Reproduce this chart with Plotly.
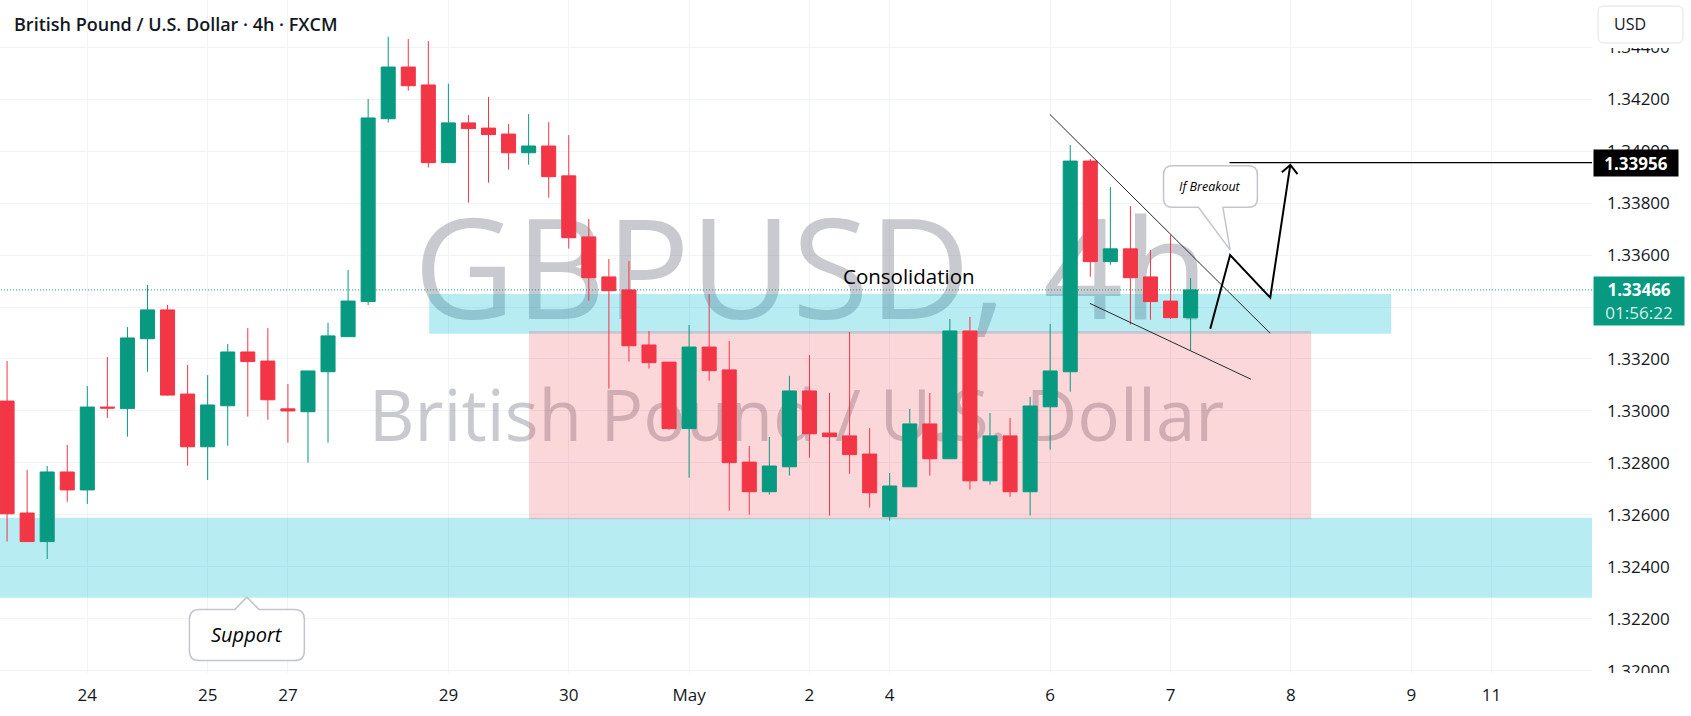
import plotly.graph_objects as go

# ---------------- data ----------------
candle_index = list(range(60))
opens = [1.33038, 1.32607, 1.32497, 1.32765, 1.32696, 1.33015, 1.33009, 1.33278, 1.33389, 1.33065,
         1.32862, 1.33020, 1.33227, 1.33192, 1.33008, 1.32997, 1.33151, 1.33286, 1.33421, 1.34125,
         1.34324, 1.34255, 1.33956, 1.34109, 1.34089, 1.34066, 1.33994, 1.34020, 1.33905, 1.33670,
         1.33516, 1.33466, 1.33254, 1.33188, 1.32932, 1.33246, 1.33158, 1.32803, 1.32689, 1.32785,
         1.33077, 1.32915, 1.32904, 1.32834, 1.32593, 1.32708, 1.32950, 1.32816, 1.33308, 1.32731,
         1.32904, 1.32689, 1.33016, 1.33151, 1.33962, 1.33575, 1.33624, 1.33516, 1.33423, 1.33359]
highs = [1.33192, 1.32773, 1.32788, 1.32869, 1.33096, 1.33208, 1.33323, 1.33485, 1.33408, 1.33177,
         1.33138, 1.33258, 1.33319, 1.33319, 1.33104, 1.33154, 1.33339, 1.33543, 1.34201, 1.34441,
         1.34432, 1.34424, 1.34260, 1.34139, 1.34209, 1.34105, 1.34143, 1.34112, 1.34062, 1.33739,
         1.33585, 1.33577, 1.33308, 1.33188, 1.33331, 1.33450, 1.33269, 1.32865, 1.32900, 1.33135,
         1.33215, 1.33070, 1.33304, 1.32934, 1.32761, 1.33008, 1.33069, 1.33354, 1.33362, 1.32992,
         1.32973, 1.33054, 1.33335, 1.34024, 1.33970, 1.33862, 1.33789, 1.33620, 1.33677, 1.33512]
lows = [1.32497, 1.32497, 1.32430, 1.32650, 1.32642, 1.32973, 1.32901, 1.33151, 1.33059, 1.32789,
        1.32734, 1.32866, 1.32978, 1.32966, 1.32878, 1.32801, 1.32878, 1.33286, 1.33408, 1.34110,
        1.34233, 1.33937, 1.33956, 1.33802, 1.33879, 1.33929, 1.33948, 1.33821, 1.33625, 1.33424,
        1.33086, 1.33190, 1.33163, 1.32928, 1.32743, 1.33116, 1.32616, 1.32601, 1.32678, 1.32751,
        1.32820, 1.32597, 1.32758, 1.32628, 1.32578, 1.32708, 1.32751, 1.32816, 1.32697, 1.32716,
        1.32670, 1.32597, 1.32851, 1.33074, 1.33517, 1.33563, 1.33332, 1.33351, 1.33355, 1.33232]
closes = [1.32604, 1.32497, 1.32765, 1.32696, 1.33015, 1.33011, 1.33281, 1.33389, 1.33061, 1.32862,
          1.33023, 1.33227, 1.33190, 1.33043, 1.33000, 1.33154, 1.33289, 1.33423, 1.34128, 1.34324,
          1.34252, 1.33956, 1.34109, 1.34087, 1.34064, 1.33994, 1.34020, 1.33902, 1.33667, 1.33513,
          1.33463, 1.33251, 1.33186, 1.32932, 1.33246, 1.33155, 1.32801, 1.32689, 1.32788, 1.33077,
          1.32912, 1.32901, 1.32832, 1.32685, 1.32711, 1.32950, 1.32816, 1.33308, 1.32731, 1.32904,
          1.32689, 1.33019, 1.33154, 1.33962, 1.33575, 1.33624, 1.33513, 1.33421, 1.33359, 1.33466]

x_tick_positions = [4, 10, 14, 22, 28, 34, 40, 44, 52, 58, 64, 70, 74]
x_tick_labels = ["24", "25", "27", "29", "30", "May", "2", "4", "6", "7", "8", "9", "11"]
price_ticks = [1.320, 1.322, 1.324, 1.326, 1.328, 1.330, 1.332, 1.334, 1.336, 1.338, 1.340, 1.342, 1.344]

last_price = 1.33466
target_price = 1.33956
countdown = "01:56:22"

# zones (price bands) and drawing anchors
support_zone = (1.32281, 1.32589)
upper_zone = (1.33297, 1.33450)
upper_zone_x = (21.04, 69.0)
consol_zone = (1.32583, 1.33308)
consol_zone_x = (26.02, 65.01)
resistance_line = ((51.98, 1.34142), (62.97, 1.33299))
lower_line = ((53.98, 1.33414), (62.01, 1.33122))
zigzag_x = [59.98, 60.97, 62.97, 63.97]
zigzag_y = [1.33316, 1.33600, 1.33436, 1.33947]
target_line_start = 60.94

# ---------------- styling ----------------
GREEN = "#089981"
RED = "#f23645"
TEXT = "#131722"
GRID = "#f0f3fa"
FONT = "Open Sans"
WATERMARK = "rgba(120,123,134,0.40)"

X_RANGE = [-0.3525, 79.01]
Y_RANGE = [1.319911, 1.345821]
W, H = 1691, 716
ML, MR, MT, MB = 0, 99, 0, 43
PW, PH = W - ML - MR, H - MT - MB


def pxp(px):  # pixel -> paper x
    return (px - ML) / PW


def pyp(py):  # pixel -> paper y
    return 1 - (py - MT) / PH


fig = go.Figure()

# candles
fig.add_trace(go.Candlestick(
    x=candle_index, open=opens, high=highs, low=lows, close=closes,
    increasing=dict(line=dict(color=GREEN, width=1), fillcolor=GREEN),
    decreasing=dict(line=dict(color=RED, width=1), fillcolor=RED),
    whiskerwidth=0, showlegend=False, hoverinfo="skip"))

shapes = []
# watermark texts (drawn under the candles)
shapes.append(dict(type="rect", xref="x", yref="y", x0=21.39, x1=58.78, y0=1.33319, y1=1.33735,
                   line=dict(width=0), fillcolor="rgba(0,0,0,0)", layer="between",
                   label=dict(text="GBPUSD, 4h", textposition="middle center",
                              font=dict(family=FONT, size=140, color=WATERMARK))))
shapes.append(dict(type="rect", xref="x", yref="y", x0=18.24, x1=60.47, y0=1.32865, y1=1.33074,
                   line=dict(width=0), fillcolor="rgba(0,0,0,0)", layer="between",
                   label=dict(text="British Pound / U.S. Dollar", textposition="middle center",
                              font=dict(family=FONT, size=71, color=WATERMARK))))


def zone(x0, x1, y0, y1, color):
    shapes.append(dict(type="rect", xref="x", yref="y", x0=x0, x1=x1, y0=y0, y1=y1,
                       fillcolor=color, line=dict(width=0), layer="between"))


zone(X_RANGE[0] - 1, X_RANGE[1] + 1, support_zone[0], support_zone[1], "rgba(0,188,212,0.28)")
zone(upper_zone_x[0], upper_zone_x[1], upper_zone[0], upper_zone[1], "rgba(0,188,212,0.28)")
zone(consol_zone_x[0], consol_zone_x[1], consol_zone[0], consol_zone[1], "rgba(242,54,69,0.20)")

# current price dotted line
shapes.append(dict(type="line", xref="x", yref="y", x0=X_RANGE[0] - 1, x1=X_RANGE[1] + 1,
                   y0=last_price, y1=last_price, line=dict(color=GREEN, width=1, dash="1px,2px"),
                   layer="between"))

# trend lines
for (a, b) in (resistance_line, lower_line):
    shapes.append(dict(type="line", xref="x", yref="y", x0=a[0], y0=a[1], x1=b[0], y1=b[1],
                       line=dict(color="#2a2a2a", width=1), layer="above"))
# target horizontal line
shapes.append(dict(type="line", xref="x", yref="y", x0=target_line_start, x1=X_RANGE[1] + 1,
                   y0=target_price, y1=target_price, line=dict(color="#000000", width=1.2), layer="above"))
# zigzag projection with open arrow head
zz = "M " + " L ".join(f"{x},{y}" for x, y in zip(zigzag_x, zigzag_y))
shapes.append(dict(type="path", xref="x", yref="y", path=zz, line=dict(color="#000000", width=2), layer="above"))
tipx, tipy = zigzag_x[-1], zigzag_y[-1]
head = f"M {tipx - 0.42},{tipy - 0.00028} L {tipx},{tipy} L {tipx + 0.36},{tipy - 0.00035}"
shapes.append(dict(type="path", xref="x", yref="y", path=head, line=dict(color="#000000", width=2), layer="above"))


def callout(x0, x1, ytop, ybot, tail, tail_side, rx=0.5, ry=0.00038):
    xl, xr, tx, ty = tail
    if tail_side == "top":
        p = (f"M {x0 + rx},{ytop} L {xl},{ytop} L {tx},{ty} L {xr},{ytop} L {x1 - rx},{ytop} "
             f"Q {x1},{ytop} {x1},{ytop - ry} L {x1},{ybot + ry} Q {x1},{ybot} {x1 - rx},{ybot} "
             f"L {x0 + rx},{ybot} Q {x0},{ybot} {x0},{ybot + ry} L {x0},{ytop - ry} Q {x0},{ytop} {x0 + rx},{ytop} Z")
    else:
        p = (f"M {x0 + rx},{ytop} L {x1 - rx},{ytop} Q {x1},{ytop} {x1},{ytop - ry} "
             f"L {x1},{ybot + ry} Q {x1},{ybot} {x1 - rx},{ybot} L {xr},{ybot} L {tx},{ty} L {xl},{ybot} "
             f"L {x0 + rx},{ybot} Q {x0},{ybot} {x0},{ybot + ry} L {x0},{ytop - ry} Q {x0},{ytop} {x0 + rx},{ytop} Z")
    shapes.append(dict(type="path", xref="x", yref="y", path=p, fillcolor="#ffffff",
                       line=dict(color="#c3c5ce", width=1.5), layer="above"))


callout(9.09, 14.82, 1.32236, 1.32039, (11.36, 12.56, 11.95, 1.32283), "top")
callout(57.65, 62.33, 1.33944, 1.33784, (59.39, 60.61, 60.97, 1.33620), "bottom", rx=0.45, ry=0.00035)

# right price scale chrome
shapes.append(dict(type="rect", xref="paper", yref="paper", x0=1.0, x1=pxp(W + 5), y0=pyp(H + 5), y1=pyp(MT + PH),
                   fillcolor="#ffffff", line=dict(width=0), layer="above"))
shapes.append(dict(type="rect", xref="paper", yref="paper", x0=1.0, x1=pxp(W + 5), y0=pyp(48), y1=pyp(-5),
                   fillcolor="#ffffff", line=dict(width=0), layer="above"))
bx0, bx1, by0, by1, r = pxp(1598), pxp(1683), pyp(43), pyp(6), 6
rxp, ryp = r / PW, r / PH
usd_path = (f"M {bx0 + rxp},{by1} L {bx1 - rxp},{by1} Q {bx1},{by1} {bx1},{by1 - ryp} L {bx1},{by0 + ryp} "
            f"Q {bx1},{by0} {bx1 - rxp},{by0} L {bx0 + rxp},{by0} Q {bx0},{by0} {bx0},{by0 + ryp} "
            f"L {bx0},{by1 - ryp} Q {bx0},{by1} {bx0 + rxp},{by1} Z")
shapes.append(dict(type="path", xref="paper", yref="paper", path=usd_path, fillcolor="#ffffff",
                   line=dict(color="#e0e3eb", width=1), layer="above"))

annotations = [
    dict(xref="paper", yref="paper", x=pxp(12), y=pyp(24.5), xanchor="left", yanchor="middle",
         text="British Pound / U.S. Dollar · 4h · FXCM", showarrow=False,
         font=dict(family=FONT, size=18, color=TEXT, weight=600)),
    dict(xref="x", yref="y", x=44.97, y=1.33520, text="Consolidation", showarrow=False,
         font=dict(family=FONT, size=20.5, color="#000000")),
    dict(xref="x", yref="y", x=11.95, y=1.32138, text="Support", showarrow=False,
         font=dict(family=FONT, size=20, color="#000000", style="italic")),
    dict(xref="x", yref="y", x=59.98, y=1.33866, text="If Breakout", showarrow=False,
         font=dict(family=FONT, size=12.5, color="#000000", style="italic")),
    dict(xref="paper", yref="paper", x=pxp(1612), y=pyp(24.5), xanchor="left", yanchor="middle",
         text="USD", showarrow=False, font=dict(family=FONT, size=16, color=TEXT)),
    dict(xref="paper", yref="y", x=1.0, xshift=1, y=target_price, xanchor="left", yanchor="middle",
         text=f"<b>{target_price:.5f}</b>", showarrow=False, bgcolor="#000000", width=80, height=22,
         borderpad=2, align="center", font=dict(family=FONT, size=17, color="#ffffff")),
    dict(xref="paper", yref="y", x=1.0, xshift=1, y=last_price, yshift=-10.7, xanchor="left", yanchor="middle",
         text=f"<b>{last_price:.5f}</b><br><span style='color:rgba(255,255,255,0.85)'>{countdown}</span>",
         showarrow=False, bgcolor=GREEN, width=86, height=44, borderpad=2, align="center",
         font=dict(family=FONT, size=17, color="#ffffff")),
]

fig.update_layout(
    width=W, height=H, margin=dict(l=ML, r=MR, t=MT, b=MB),
    paper_bgcolor="#ffffff", plot_bgcolor="#ffffff",
    showlegend=False, boxgap=0.3, boxgroupgap=0,
    shapes=shapes, annotations=annotations,
    xaxis=dict(range=X_RANGE, tickvals=x_tick_positions, ticktext=x_tick_labels,
               showgrid=True, gridcolor=GRID, gridwidth=1, zeroline=False, showline=False,
               ticks="", ticklabelstandoff=10, rangeslider=dict(visible=False),
               tickfont=dict(family=FONT, size=17, color=TEXT), fixedrange=True),
    yaxis=dict(range=Y_RANGE, side="right", tickvals=price_ticks, tickformat=".5f",
               showgrid=True, gridcolor=GRID, gridwidth=1, zeroline=False, showline=False,
               ticks="", ticklabelstandoff=14,
               tickfont=dict(family=FONT, size=17, color=TEXT), fixedrange=True),
)

fig.write_html("out.html")
